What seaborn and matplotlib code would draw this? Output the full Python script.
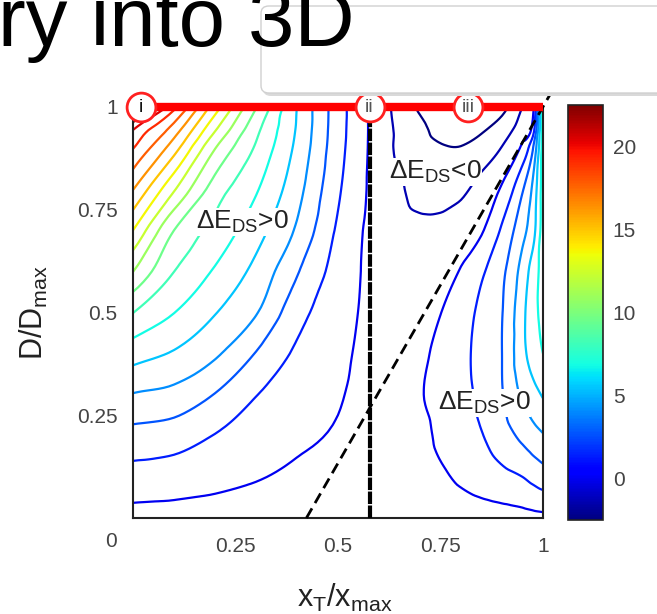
import numpy as np
import matplotlib
matplotlib.use("Agg")
import matplotlib.pyplot as plt
import matplotlib.tri as mtri
from matplotlib.colors import Normalize
from matplotlib.cm import ScalarMappable
from matplotlib.patches import FancyBboxPatch
import seaborn as sns

# ---------------- data ----------------
X_NODES = [0.0, 0.1, 0.2, 0.3, 0.4, 0.5, 0.55, 0.6, 0.65, 0.7, 0.75, 0.8, 0.85, 0.9, 0.95, 0.975, 1.0]
Y_NODES = [0.0, 0.1, 0.2, 0.3, 0.4, 0.5, 0.6, 0.7, 0.8, 0.9, 0.95, 1.0]

# estimated Delta E_DS on the grid (one row per Y_NODES value)
DE_Y000 = [0.66, 0.64, 0.61, 0.56, 0.50, 0.45, 0.43, 0.42, 0.42, 0.43, 0.45, 0.47, 0.52, 0.57, 0.64, 0.69, 0.74]
DE_Y010 = [1.61, 1.49, 1.28, 1.06, 0.84, 0.67, 0.55, 0.50, 0.52, 0.63, 0.86, 1.15, 1.44, 1.72, 2.00, 2.27, 2.53]
DE_Y020 = [2.66, 2.48, 1.96, 1.55, 1.18, 0.89, 0.62, 0.52, 0.56, 0.74, 1.18, 1.58, 1.95, 2.55, 3.23, 3.60, 3.92]
DE_Y030 = [3.95, 3.70, 2.96, 2.03, 1.56, 1.10, 0.78, 0.58, 0.57, 0.93, 1.33, 1.72, 2.21, 2.93, 4.18, 4.64, 5.09]
DE_Y040 = [5.42, 4.90, 4.16, 2.95, 1.84, 1.24, 0.90, 0.62, 0.55, 0.80, 1.26, 1.74, 2.31, 3.00, 4.73, 5.40, 6.00]
DE_Y050 = [7.02, 6.02, 5.05, 4.07, 2.37, 1.39, 0.99, 0.65, 0.58, 0.60, 0.98, 1.58, 2.22, 2.96, 4.74, 5.64, 6.30]
DE_Y060 = [9.02, 7.01, 5.89, 4.71, 3.09, 1.59, 1.05, 0.70, 0.55, 0.50, 0.60, 1.07, 1.85, 2.77, 4.40, 5.43, 6.40]
DE_Y070 = [11.0, 8.00, 6.69, 5.40, 3.86, 1.85, 1.14, 0.55, 0.35, 0.25, 0.30, 0.50, 0.90, 2.15, 3.70, 4.60, 6.50]
DE_Y080 = [13.04, 10.12, 7.54, 6.11, 4.35, 2.15, 1.27, 0.64, 0.13, -0.35, -0.45, -0.20, 0.38, 1.14, 2.90, 4.20, 6.50]
DE_Y090 = [15.04, 12.43, 9.04, 6.87, 4.76, 2.37, 1.39, 0.56, -0.20, -0.60, -0.90, -0.95, -0.60, 0.05, 1.25, 2.90, 6.50]
DE_Y095 = [16.23, 13.67, 10.23, 7.33, 4.92, 2.43, 1.43, 0.54, -0.22, -0.76, -1.40, -1.60, -1.20, -0.56, 0.48, 1.30, 6.50]
DE_Y100 = [20.0, 15.29, 11.50, 8.06, 5.00, 2.45, 1.45, 0.50, -0.35, -1.15, -1.90, -2.40, -2.00, -1.35, 0.00, 0.60, 6.50]
DE_ROWS = [DE_Y000, DE_Y010, DE_Y020, DE_Y030, DE_Y040, DE_Y050,
           DE_Y060, DE_Y070, DE_Y080, DE_Y090, DE_Y095, DE_Y100]

LEVELS = list(range(-1, 21))
LINE_CMIN, LINE_CMAX = -0.8, 17.5      # colour range of the contour lines
CBAR_MIN, CBAR_MAX = -2.5, 22.5        # range shown on the colour bar
CBAR_TICKS = [0, 5, 10, 15, 20]

TICKS = [0.25, 0.5, 0.75, 1.0]
TICK_LABELS = ["0.25", "0.5", "0.75", "1"]

MARK_X = [0.02, 0.577, 0.817]
MARK_Y = [1.0, 1.0, 1.0]
MARK_LABELS = ["i", "ii", "iii"]
MARK_COLORS = ["#111111", "#555555", "#555555"]

EDGE_X = [0.0, 1.0]          # red boundary at D = Dmax
EDGE_Y = [1.0, 1.0]
VLINE_X = [0.577, 0.577]     # vertical boundary
VLINE_Y = [0.0, 1.0]
DASH_X = [0.423, 1.04]       # dashed boundary
DASH_Y = [0.0, 1.07]

ANNOT = [("ΔE$_{\\mathrm{DS}}$>0", 0.266, 0.72),
         ("ΔE$_{\\mathrm{DS}}$<0", 0.737, 0.842),
         ("ΔE$_{\\mathrm{DS}}$>0", 0.856, 0.28)]

# ---------------- style ----------------
sns.set_style("white")
plt.rcParams["font.family"] = ["Liberation Sans", "DejaVu Sans"]
plt.rcParams["mathtext.fontset"] = "custom"
plt.rcParams["mathtext.rm"] = "Liberation Sans"
plt.rcParams["mathtext.it"] = "Liberation Sans:italic"
plt.rcParams["mathtext.bf"] = "Liberation Sans:bold"

W, H = 657, 614
fig = plt.figure(figsize=(W / 100, H / 100), dpi=100)
fig.patch.set_facecolor("white")

ax = fig.add_axes([133 / W, 1 - 518 / H, 410 / W, 411 / H])
cax = fig.add_axes([568 / W, 1 - 520 / H, 35 / W, 415 / H])

# ---------------- contour field ----------------
nx, ny = len(X_NODES), len(Y_NODES)
xx, yy = np.meshgrid(np.array(X_NODES), np.array(Y_NODES))
zz = np.array(DE_ROWS, dtype=float)
tris = []
for j in range(ny - 1):
    for i in range(nx - 1):
        a = j * nx + i
        b = a + 1
        c = a + nx
        d = c + 1
        tris.append([a, b, d])
        tris.append([a, d, c])
tri = mtri.Triangulation(xx.ravel(), yy.ravel(), triangles=np.array(tris))
interp = mtri.CubicTriInterpolator(tri, zz.ravel(), kind="geom")
refiner = mtri.UniformTriRefiner(tri)
tri_r, z_r = refiner.refine_field(zz.ravel(), triinterpolator=interp, subdiv=3)

line_norm = Normalize(vmin=LINE_CMIN, vmax=LINE_CMAX, clip=True)
ax.tricontour(tri_r, z_r, levels=LEVELS, cmap="jet", norm=line_norm, linewidths=1.6, zorder=2)

# ---------------- annotations / boundaries ----------------
for txt, tx, ty in ANNOT:
    ax.text(tx, ty, txt, fontsize=19, ha="center", va="center", color="#222222", zorder=4,
            bbox=dict(facecolor="white", edgecolor="none", pad=0.5))

ax.plot(VLINE_X, VLINE_Y, color="black", lw=3.0, dashes=(3.0, 0.35), solid_capstyle="butt",
        zorder=5, clip_on=False)
ax.plot(DASH_X, DASH_Y, color="black", lw=2.0, dashes=(4.0, 2.2), zorder=5, clip_on=False)
ax.plot(EDGE_X, EDGE_Y, color="#ff0000", lw=6.0, solid_capstyle="butt", zorder=6, clip_on=False)
ax.scatter(MARK_X, MARK_Y, s=430, facecolor="white", edgecolor="#ff2020", linewidth=2.0,
           zorder=7, clip_on=False)
for mx, my, lab, col in zip(MARK_X, MARK_Y, MARK_LABELS, MARK_COLORS):
    ax.text(mx, my, lab, fontsize=14, ha="center", va="center", color=col,
            zorder=8, clip_on=False)

# ---------------- axes cosmetics ----------------
ax.set_xlim(0, 1)
ax.set_ylim(0, 1)
ax.set_xticks(TICKS)
ax.set_xticklabels(TICK_LABELS)
ax.set_yticks(TICKS)
ax.set_yticklabels(TICK_LABELS)
ax.tick_params(axis="both", direction="in", length=6, width=1.2, colors="#222222",
               labelsize=15, labelcolor="#444444")
ax.tick_params(axis="x", pad=14)
ax.tick_params(axis="y", pad=11)
for sp in ax.spines.values():
    sp.set_linewidth(1.5)
    sp.set_color("#222222")
ax.text(-0.054, -0.058, "0", transform=ax.transAxes, ha="center", va="center",
        fontsize=15, color="#444444")

fig.text(345 / W, 1 - 598 / H, "x$_{\\mathrm{T}}$/x$_{\\mathrm{max}}$", ha="center", va="center",
         fontsize=22, color="#222222")
fig.text(34 / W, 1 - 313 / H, "D/D$_{\\mathrm{max}}$", ha="center", va="center",
         rotation=90, fontsize=22, color="#222222")

# ---------------- colorbar ----------------
sm = ScalarMappable(norm=Normalize(vmin=CBAR_MIN, vmax=CBAR_MAX), cmap="jet")
cb = fig.colorbar(sm, cax=cax, ticks=CBAR_TICKS)
cb.outline.set_linewidth(1.2)
cb.outline.set_edgecolor("#222222")
cax.tick_params(direction="in", length=5, width=1.2, left=True, right=True,
                labelsize=15, labelcolor="#444444", colors="#222222", pad=7)
cax.yaxis.set_tick_params(labelcolor="#444444")

# ---------------- slide fragments around the figure ----------------
shadow = FancyBboxPatch((263 / W, 1 - 96 / H), 500 / W, 89 / H,
                        boxstyle="round,pad=0,rounding_size=0.012", transform=fig.transFigure,
                        facecolor="#d9d9d9", edgecolor="none", zorder=9)
box = FancyBboxPatch((261 / W, 1 - 93 / H), 500 / W, 87 / H,
                     boxstyle="round,pad=0,rounding_size=0.012", transform=fig.transFigure,
                     facecolor="white", edgecolor="#d0d0d0", lw=1.0, zorder=10)
fig.patches.extend([shadow, box])
fig.text(355 / W, 1 - 46 / H, "ry into 3D", ha="right", va="baseline", fontsize=60,
         color="black", zorder=11)

fig.savefig("out.png", dpi=100)
